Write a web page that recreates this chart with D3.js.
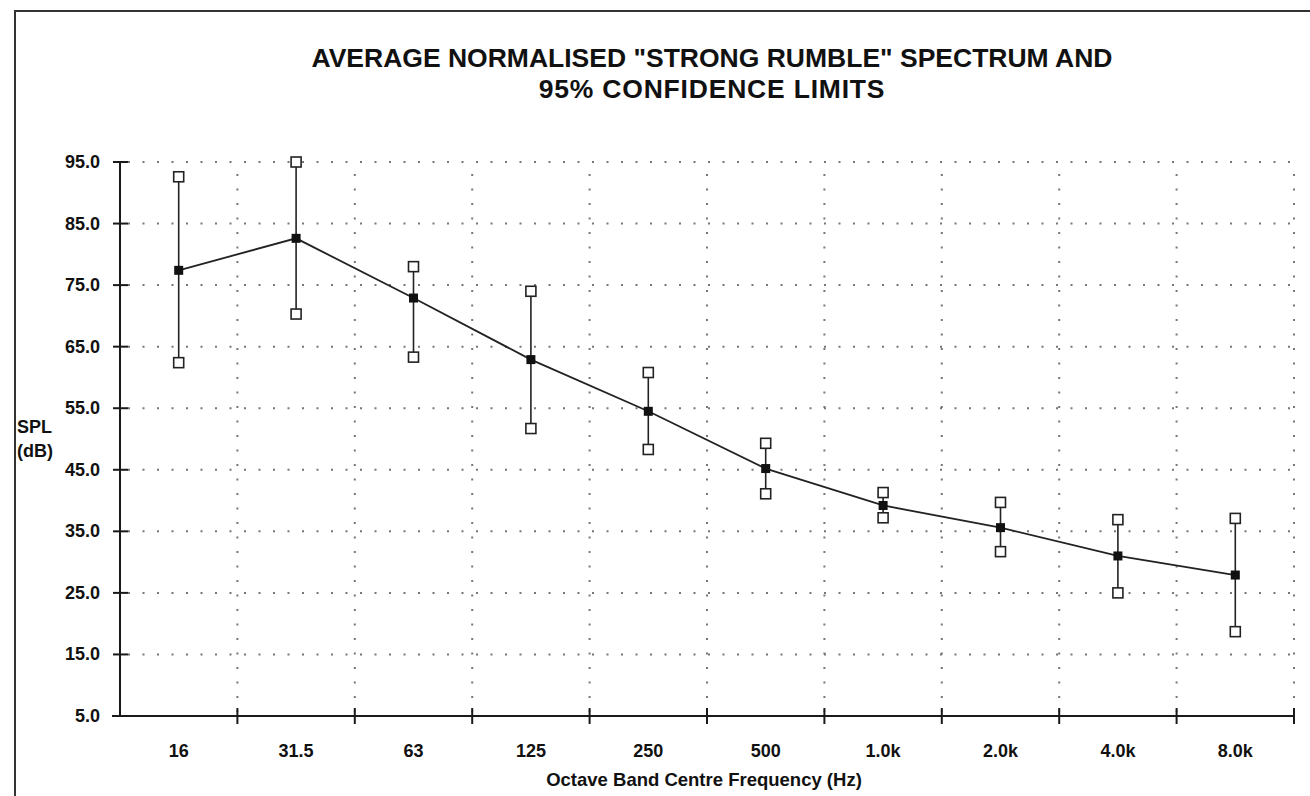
<!DOCTYPE html>
<html>
<head>
<meta charset="utf-8">
<script src="https://cdn.jsdelivr.net/npm/d3@7"></script>
<style>
  body { margin: 0; background: #fff; }
  text { font-family: "Liberation Sans", Arial, sans-serif; font-weight: bold; fill: #111; }
</style>
</head>
<body>
<div id="chart"></div>
<script>
// octave bands and SPL values
const bands = ["16", "31.5", "63", "125", "250", "500", "1.0k", "2.0k", "4.0k", "8.0k"];
const meanSPL = [77.4, 82.6, 72.9, 62.9, 54.5, 45.2, 39.2, 35.6, 31.0, 27.9];
const upperSPL = [92.6, 95.0, 78.0, 74.0, 60.8, 49.3, 41.3, 39.7, 36.9, 37.1];
const lowerSPL = [62.4, 70.3, 63.3, 51.7, 48.3, 41.1, 37.2, 31.7, 25.0, 18.7];
const yTicks = [5, 15, 25, 35, 45, 55, 65, 75, 85, 95];

const W = 1310, H = 796;
let margin = { top: 162, right: 16, bottom: 80, left: 120 };

const svg = d3.select("#chart").append("svg")
    .attr("width", W).attr("height", H);

// frame (runs off the right and bottom of the scan)
svg.append("rect")
    .attr("x", 15).attr("y", 11)
    .attr("width", 1400).attr("height", 900)
    .attr("fill", "none").attr("stroke", "#333").attr("stroke-width", 2);

let x = d3.scaleBand()
    .domain(bands)
    .range([margin.left, W - margin.right]);
let y = d3.scaleLinear()
    .domain([5, 95])
    .range([H - margin.bottom, margin.top]);

// title
svg.append("text")
    .attr("x", 712).attr("y", 67)
    .attr("text-anchor", "middle").style("font-size", "26.5px")
    .text('AVERAGE NORMALISED "STRONG RUMBLE" SPECTRUM AND');
svg.append("text")
    .attr("x", 712).attr("y", 98)
    .attr("text-anchor", "middle").style("font-size", "26.5px")
    .style("letter-spacing", "0.8px")
    .text("95% CONFIDENCE LIMITS");

// dotted grid
let grid = svg.append("g").attr("stroke", "#777").attr("stroke-width", 2)
    .attr("stroke-dasharray", "2,12.5");
grid.selectAll(".hgrid")
    .data(yTicks.slice(1)).enter().append("line")
    .attr("x1", x.range()[0] + 8).attr("x2", x.range()[1])
    .attr("y1", d => y(d)).attr("y2", d => y(d));
grid.selectAll(".vgrid")
    .data(bands.slice(1).concat(["end"])).enter().append("line")
    .attr("x1", d => d === "end" ? x.range()[1] : x(d))
    .attr("x2", d => d === "end" ? x.range()[1] : x(d))
    .attr("y1", y(95) + 12).attr("y2", y(5) - 4);

// axes
let axes = svg.append("g").attr("stroke", "#1a1a1a").attr("stroke-width", 2);
axes.append("line")
    .attr("x1", margin.left).attr("x2", margin.left)
    .attr("y1", y(95)).attr("y2", y(5));
axes.append("line")
    .attr("x1", margin.left - 8).attr("x2", x.range()[1])
    .attr("y1", y(5)).attr("y2", y(5));
axes.selectAll(".ytick")
    .data(yTicks).enter().append("line")
    .attr("x1", margin.left - 7).attr("x2", margin.left + 8)
    .attr("y1", d => y(d)).attr("y2", d => y(d));
axes.selectAll(".xtick")
    .data(bands.slice(1).concat(["end"])).enter().append("line")
    .attr("x1", d => d === "end" ? x.range()[1] : x(d))
    .attr("x2", d => d === "end" ? x.range()[1] : x(d))
    .attr("y1", y(5) - 8).attr("y2", y(5) + 8);

// tick labels
svg.selectAll(".ylabel")
    .data(yTicks).enter().append("text")
    .attr("x", 100).attr("y", d => y(d) + 6)
    .attr("text-anchor", "end").style("font-size", "18px")
    .text(d => d.toFixed(1));
svg.selectAll(".xlabel")
    .data(bands).enter().append("text")
    .attr("x", d => x(d) + x.bandwidth() / 2).attr("y", 757)
    .attr("text-anchor", "middle").style("font-size", "18px")
    .text(d => d);

// axis titles
svg.append("text").attr("x", 17).attr("y", 433).style("font-size", "18px").text("SPL");
svg.append("text").attr("x", 17).attr("y", 457).style("font-size", "18px").text("(dB)");
svg.append("text")
    .attr("x", 704).attr("y", 786)
    .attr("text-anchor", "middle").style("font-size", "18.5px")
    .text("Octave Band Centre Frequency (Hz)");

// confidence bars
let cx = d => x(d) + x.bandwidth() / 2;
svg.append("g").selectAll("line")
    .data(bands).enter().append("line")
    .attr("x1", cx).attr("x2", cx)
    .attr("y1", (d, i) => y(upperSPL[i])).attr("y2", (d, i) => y(lowerSPL[i]))
    .attr("stroke", "#222").attr("stroke-width", 1.6);

// mean line
svg.append("path")
    .datum(meanSPL)
    .attr("d", d3.line().x((d, i) => cx(bands[i])).y(d => y(d)))
    .attr("fill", "none").attr("stroke", "#222").attr("stroke-width", 1.8);

// open squares for limits
let s = 10;
svg.append("g").selectAll("rect")
    .data(bands.flatMap((b, i) => [{ b, v: upperSPL[i] }, { b, v: lowerSPL[i] }]))
    .enter().append("rect")
    .attr("x", d => cx(d.b) - s / 2).attr("y", d => y(d.v) - s / 2)
    .attr("width", s).attr("height", s)
    .attr("fill", "#fff").attr("stroke", "#222").attr("stroke-width", 1.6);

// filled squares for the mean
svg.append("g").selectAll("rect")
    .data(bands).enter().append("rect")
    .attr("x", d => cx(d) - 4.5).attr("y", (d, i) => y(meanSPL[i]) - 4.5)
    .attr("width", 9).attr("height", 9)
    .attr("fill", "#111");
</script>
</body>
</html>
